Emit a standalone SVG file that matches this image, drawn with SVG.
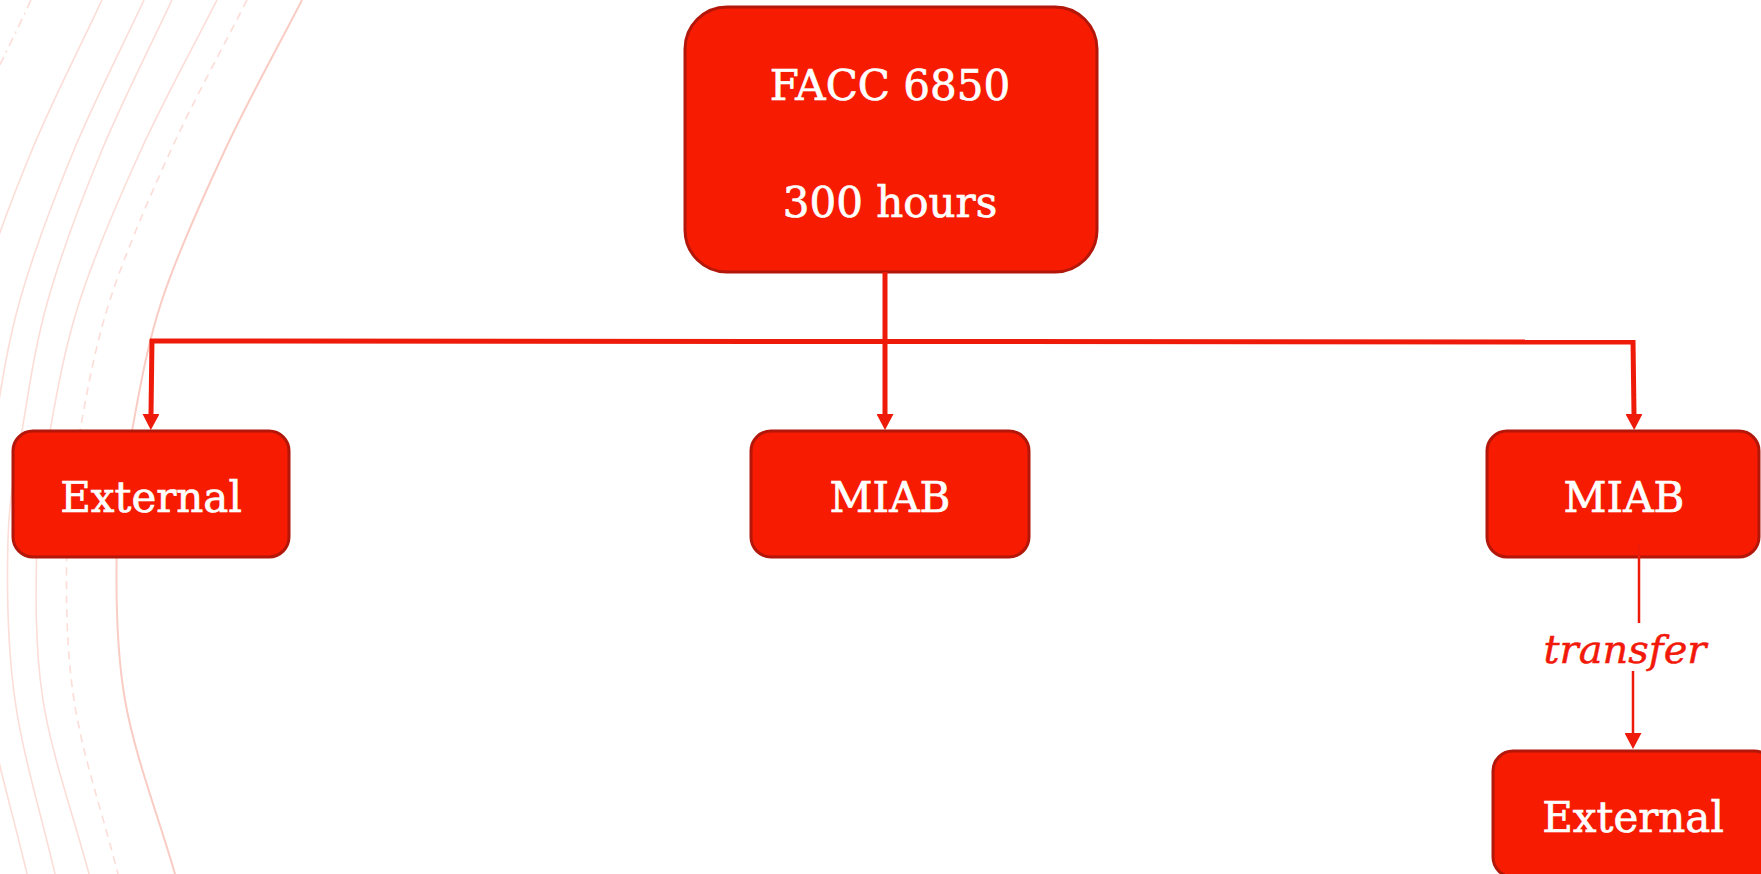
<svg xmlns="http://www.w3.org/2000/svg" width="1761" height="874" viewBox="0 0 1761 874">
<style>
.bg{fill:none;stroke:#FCDDD8;stroke-width:1.6}
.bg2{fill:none;stroke:#F9CCC4;stroke-width:2}
.dash{stroke-dasharray:8 6}
.dashdot{stroke-dasharray:9 5 2 5}
.box{fill:#F71B02;stroke:#B3170A;stroke-width:3}
.lbl{font-family:"DejaVu Serif",serif;font-size:42px;fill:#FFFFFF;stroke:#FFFFFF;stroke-width:0.7;text-anchor:middle}
.edge{fill:none;stroke:#EE1B0B;stroke-width:5}
.thin{fill:none;stroke:#EE1B0B;stroke-width:2.5}
.elbl{font-family:"DejaVu Serif",serif;font-style:italic;font-size:40px;fill:#F2190A;stroke:#F2190A;stroke-width:0.5;text-anchor:middle}
</style>
<defs>
<marker id="arr" viewBox="0 0 16 17" refX="0" refY="8.5" markerWidth="16" markerHeight="17" markerUnits="userSpaceOnUse" orient="auto">
<path d="M0,0 L16,8.5 L0,17 z" fill="#EE1B0B"/>
</marker>
<path id="arcD" d="M172,0 C148.7,50 122.7,100 102,150 C81.3,200 61.3,253.2 48,300 C34.7,346.8 28.7,391 22,431 C15.3,471 9.2,495.2 8,540 C6.8,584.8 7.2,644.3 15,700 C22.8,755.7 41.7,816 55,874 L62,900"/>
</defs>
<rect width="1761" height="874" fill="#FFFFFF"/>
<g id="background">
<use href="#arcD" class="bg dashdot" transform="translate(-141,0)"/>
<use href="#arcD" class="bg" transform="translate(-70,0)"/>
<use href="#arcD" class="bg" transform="translate(-28,0)"/>
<use href="#arcD" class="bg"/>
<path class="bg" d="M217,0 C191.7,50 163.8,100 141,150 C118.2,200 95.2,253.2 80,300 C64.8,346.8 57.2,391 50,431 C42.8,471 38.2,495.2 37,540 C35.8,584.8 34.3,644.3 43,700 C51.7,755.7 73.7,816 89,874 L96,900"/>
<path class="bg dash" d="M247,0 C221.7,50 193.8,100 171,150 C148.2,200 125.2,253.2 110,300 C94.8,346.8 87.2,391 80,431 C72.8,471 68,495.2 67,540 C66,584.8 65.5,644.3 74,700 C82.5,755.7 103.3,816 118,874 L125,900"/>
<path class="bg2" d="M302,0 C276.3,50 248.3,100 225,150 C201.7,200 177.5,253.2 162,300 C146.5,346.8 139.5,391 132,431 C124.5,471 118.2,495.2 117,540 C115.8,584.8 115.3,644.3 125,700 C134.7,755.7 158.3,816 175,874 L183,900"/>
</g>
<g id="node-facc">
<rect class="box" x="685" y="7" width="412" height="265" rx="42" ry="42"/>
<text class="lbl" x="890" y="100">FACC 6850</text>
<text class="lbl" x="890" y="217">300 hours</text>
</g>
<g id="node-external-left">
<rect class="box" x="13" y="431" width="276" height="126" rx="20" ry="20"/>
<text class="lbl" x="151" y="512">External</text>
</g>
<g id="node-miab-mid">
<rect class="box" x="751" y="431" width="278" height="126" rx="20" ry="20"/>
<text class="lbl" x="890" y="512">MIAB</text>
</g>
<g id="node-miab-right">
<rect class="box" x="1487" y="431" width="272" height="126" rx="20" ry="20"/>
<text class="lbl" x="1624" y="512">MIAB</text>
</g>
<g id="node-external-right">
<rect class="box" x="1493" y="751" width="281" height="126" rx="20" ry="20"/>
<text class="lbl" x="1633" y="832">External</text>
</g>
<g id="connectors">
<path class="edge" d="M885,272 L885,414" marker-end="url(#arr)"/>
<path class="edge" d="M150,341 L1635,342"/>
<path class="edge" d="M152,339 L151,414" marker-end="url(#arr)"/>
<path class="edge" d="M1633,340 L1634,414" marker-end="url(#arr)"/>
<path class="thin" d="M1639,545 L1639,623"/>
<path class="thin" d="M1633,671 L1633,733" marker-end="url(#arr)"/>
<text class="elbl" x="1625" y="663">transfer</text>
</g>
</svg>
